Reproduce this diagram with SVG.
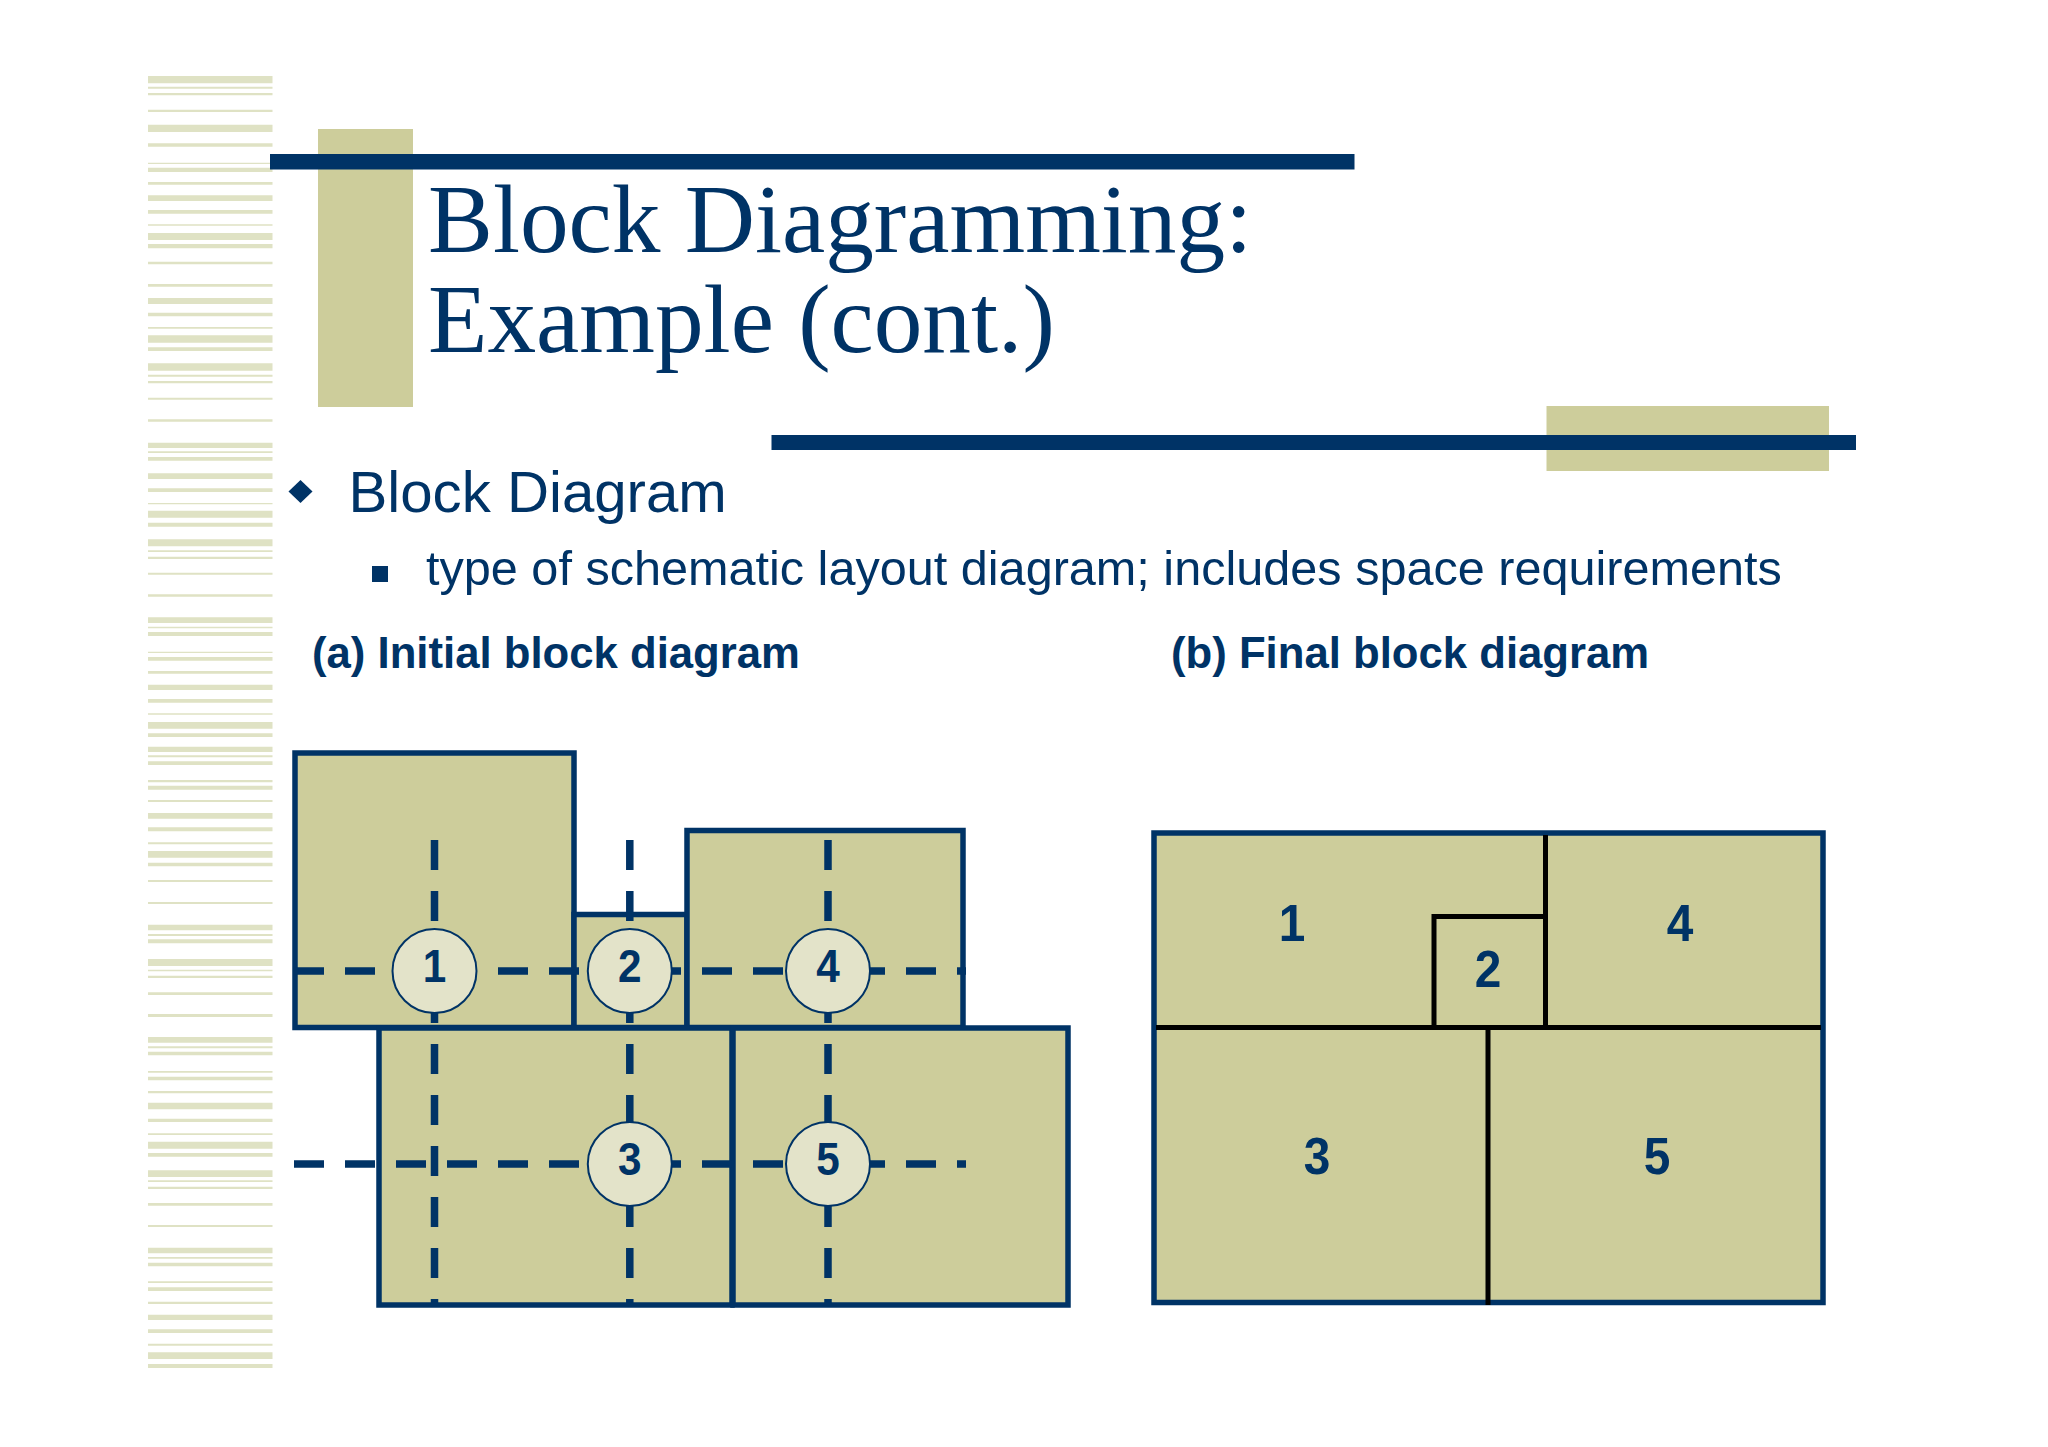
<svg xmlns="http://www.w3.org/2000/svg" width="2048" height="1447" viewBox="0 0 2048 1447">
<defs>
<filter id="soft" x="-2%" y="-1%" width="104%" height="102%"><feGaussianBlur stdDeviation="0.6"/></filter>
<style>
.tan{fill:#cdcd9b}
.navy{fill:#003366}
.block{fill:#cdcd9b;stroke:#003366;stroke-width:5.500}
.wall{fill:none;stroke:#000;stroke-width:5}
.dash{fill:none;stroke:#003366;stroke-width:7.500;stroke-dasharray:30 21}
.hub{fill:#e3e3c9;stroke:#003366;stroke-width:2}
.t{font-family:"Liberation Sans",Arial,sans-serif;fill:#003366}
.title{font-family:"Liberation Serif","Times New Roman",serif;fill:#003366;font-size:97.300px}
.num{font-family:"Liberation Sans",Arial,sans-serif;fill:#003366;font-weight:700;text-anchor:middle}
.n1{font-size:46px}
.n2{font-size:52px}
</style>
</defs>
<rect width="2048" height="1447" fill="#fff"/>
<g id="stripes" filter="url(#soft)">
<path fill="#dfe2c4" d="M148 76h124.500v7.300h-124.500zM148 86.700h124.500v2h-124.500zM148 93h124.500v2.300h-124.500zM148 109.700h124.500v2.300h-124.500zM148 124.700h124.500v7.300h-124.500zM148 143.300h124.500v3.400h-124.500zM148 162.700h124.500v1.300h-124.500zM148 167.700h124.500v4.300h-124.500zM148 182h124.500v2.700h-124.500zM148 195.300h124.500v5.700h-124.500zM148 210h124.500v3.700h-124.500zM148 224.300h124.500v1.400h-124.500zM148 233h124.500v7h-124.500zM148 244h124.500v4.300h-124.500zM148 261.700h124.500v2.600h-124.500zM148 284h124.500v2.700h-124.500zM148 298h124.500v6h-124.500zM148 312.700h124.500v3.600h-124.500zM148 327h124.500v1.700h-124.500zM148 335.300h124.500v7.400h-124.500zM148 347.300h124.500v3.700h-124.500zM148 363.300h124.500v7.400h-124.500zM148 374.700h124.500v2h-124.500zM148 381h124.500v2.300h-124.500zM148 397.700h124.500v2h-124.500zM148 419.300h124.500v2.400h-124.500zM148 442.700h124.500v5.300h-124.500zM148 451.300h124.500v1.700h-124.500zM148 457h124.500v3.700h-124.500zM148 473.300h124.500v5.700h-124.500zM148 488.300h124.500v3.700h-124.500zM148 503h124.500v1.300h-124.500zM148 510.700h124.500v7h-124.500zM148 522.700h124.500v4h-124.500zM148 539.300h124.500v7h-124.500zM148 550.300h124.500v1.700h-124.500zM148 556.700h124.500v2.300h-124.500zM148 572.700h124.500v2h-124.500zM148 594.300h124.500v2.400h-124.500zM148 617.300h124.500v5.700h-124.500zM148 626.700h124.500v1.600h-124.500zM148 632h124.500v4h-124.500zM148 651.700h124.500v1.300h-124.500zM148 657h124.500v3.700h-124.500zM148 671h124.500v2.700h-124.500zM148 684.700h124.500v5.300h-124.500zM148 699h124.500v3.700h-124.500zM148 713.300h124.500v1.400h-124.500zM148 722h124.500v6.700h-124.500zM148 733.300h124.500v3.700h-124.500zM148 746.700h124.500v5.300h-124.500zM148 755.300h124.500v2h-124.500zM148 761.300h124.500v3.700h-124.500zM148 780h124.500v2.300h-124.500zM148 785.700h124.500v4h-124.500zM148 800h124.500v2h-124.500zM148 813h124.500v5.700h-124.500zM148 827.300h124.500v4h-124.500zM148 842.300h124.500v2h-124.500zM148 851h124.500v6.700h-124.500zM148 862.700h124.500v3.600h-124.500zM148 880h124.500v2h-124.500zM148 902h124.500v2h-124.500zM148 924.700h124.500v5.600h-124.500zM148 934h124.500v2h-124.500zM148 939.300h124.500v4h-124.500zM148 959h124.500v7h-124.500zM148 969.700h124.500v1.600h-124.500zM148 975.700h124.500v2.300h-124.500zM148 992.300h124.500v2.700h-124.500zM148 1014h124.500v3h-124.500zM148 1037h124.500v5.700h-124.500zM148 1046.300h124.500v2h-124.500zM148 1051.700h124.500v3.600h-124.500zM148 1071h124.500v1.700h-124.500zM148 1076.700h124.500v3.600h-124.500zM148 1091h124.500v2.300h-124.500zM148 1102.700h124.500v6.600h-124.500zM148 1118.700h124.500v3.300h-124.500zM148 1133.300h124.500v1.700h-124.500zM148 1141.700h124.500v7h-124.500zM148 1153h124.500v3.700h-124.500zM148 1170.300h124.500v6.700h-124.500zM148 1180.300h124.500v1.700h-124.500zM148 1186.700h124.500v2.300h-124.500zM148 1203h124.500v2.700h-124.500zM148 1225h124.500v2h-124.500zM148 1247.700h124.500v5.600h-124.500zM148 1257h124.500v1.700h-124.500zM148 1262.700h124.500v3.600h-124.500zM148 1281.300h124.500v1.700h-124.500zM148 1287.300h124.500v3.700h-124.500zM148 1301.700h124.500v2.300h-124.500zM148 1314.700h124.500v5.300h-124.500zM148 1329.300h124.500v3.700h-124.500zM148 1343.700h124.500v2h-124.500zM148 1352.300h124.500v6.700h-124.500zM148 1364h124.500v4h-124.500z"/>
</g>
<g id="decor">
<rect class="tan" x="318" y="129" width="95" height="278"/>
<rect class="navy" x="270" y="154" width="1084.500" height="15.500"/>
<rect class="tan" x="1546.500" y="406" width="282.500" height="65"/>
<rect class="navy" x="771.500" y="435" width="1084.500" height="15"/>
</g>
<g id="title">
<text class="title" x="428" y="252">Block Diagramming:</text>
<text class="title" x="428" y="352">Example (cont.)</text>
</g>
<g id="bullets">
<polygon class="navy" points="300.500,480 312.500,491.500 300.500,503 288.500,491.500"/>
<text class="t" x="348.500" y="512" font-size="58.200">Block Diagram</text>
<rect class="navy" x="372" y="566" width="16" height="16"/>
<text class="t" x="426" y="585" font-size="48.600">type of schematic layout diagram; includes space requirements</text>
<text class="t" x="312" y="668" font-size="43.700" font-weight="700">(a) Initial block diagram</text>
<text class="t" x="1171" y="668" font-size="43.700" font-weight="700">(b) Final block diagram</text>
</g>
<g id="initial-blocks">
<rect id="a-block-1" class="block" x="295" y="753" width="279" height="274.500"/>
<rect id="a-block-2" class="block" x="574" y="914.500" width="113" height="113"/>
<rect id="a-block-4" class="block" x="687" y="830.500" width="276" height="197"/>
<rect id="a-block-3" class="block" x="379" y="1028" width="353" height="277"/>
<rect id="a-block-5" class="block" x="733" y="1028" width="335" height="277"/>
</g>
<g id="connectors">
<path class="dash" d="M434.500 840V1305M629.800 840V1305M828 840V1305M294 971H966M294 1164H966"/>
</g>
<g id="hub-1"><ellipse class="hub" cx="434.500" cy="971" rx="42" ry="42"/><text class="num n1" transform="translate(434.500 982) scale(.92 1)">1</text></g>
<g id="hub-2"><ellipse class="hub" cx="629.800" cy="971" rx="42" ry="42"/><text class="num n1" transform="translate(629.800 982) scale(.92 1)">2</text></g>
<g id="hub-4"><ellipse class="hub" cx="828" cy="971" rx="42" ry="42"/><text class="num n1" transform="translate(828 982) scale(.92 1)">4</text></g>
<g id="hub-3"><ellipse class="hub" cx="629.800" cy="1164" rx="42" ry="42"/><text class="num n1" transform="translate(629.800 1175) scale(.92 1)">3</text></g>
<g id="hub-5"><ellipse class="hub" cx="828" cy="1164" rx="42" ry="42"/><text class="num n1" transform="translate(828 1175) scale(.92 1)">5</text></g>
<g id="final-block">
<rect class="block" x="1154" y="833" width="669" height="469.500"/>
<path class="wall" d="M1156 1027.500H1821M1545.500 835V1027.500M1434 1027.500V916.500H1545.500M1488 1027.500V1305"/>
<text class="num n2" transform="translate(1292 941) scale(.92 1)">1</text>
<text class="num n2" transform="translate(1680 941) scale(.92 1)">4</text>
<text class="num n2" transform="translate(1488 987) scale(.92 1)">2</text>
<text class="num n2" transform="translate(1317 1174) scale(.92 1)">3</text>
<text class="num n2" transform="translate(1657 1174) scale(.92 1)">5</text>
</g>
</svg>
